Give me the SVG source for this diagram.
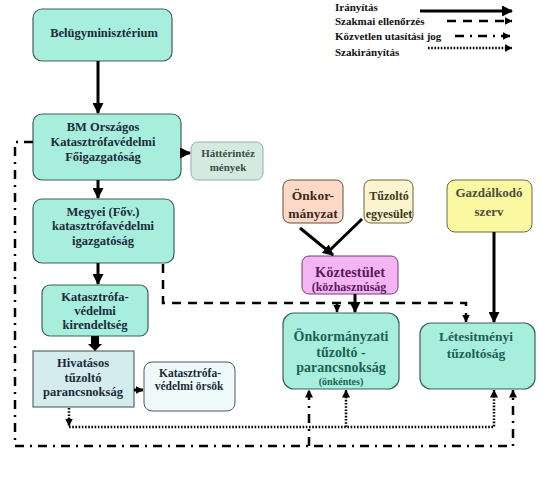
<svg xmlns="http://www.w3.org/2000/svg" width="543" height="477" viewBox="0 0 543 477" font-family="'Liberation Serif', 'DejaVu Serif', serif">
<style>
text{font-family:'Liberation Serif','DejaVu Serif',serif;font-weight:bold;text-anchor:middle}
.teal{fill:#a8eedc;stroke:#3f5f58;stroke-width:1.2}
.dk{fill:#1b2b3b;font-size:12.5px}
.tl{fill:#1e5f55}
.leg{text-anchor:start;font-size:11px;fill:#111}
.solid{fill:none;stroke:#000;stroke-width:3}
.dash{fill:none;stroke:#000;stroke-width:2.5;stroke-dasharray:9 7}
.dd{fill:none;stroke:#000;stroke-width:2.5;stroke-dasharray:9 6 2 6}
.dot{fill:none;stroke:#000;stroke-width:2.5;stroke-dasharray:1.6 1.6}
</style>
<defs>
<marker id="big" markerUnits="userSpaceOnUse" markerWidth="11" markerHeight="11" refX="10" refY="5.5" orient="auto"><path d="M0,0 L11,5.5 L0,11 z" fill="#000"/></marker>
<marker id="sm" markerUnits="userSpaceOnUse" markerWidth="8" markerHeight="8" refX="7.5" refY="4" orient="auto"><path d="M0,0 L8,4 L0,8 z" fill="#000"/></marker>
</defs>
<rect width="543" height="477" fill="#fff"/>

<g id="legend">
<text class="leg" x="335" y="11">Irányítás</text>
<text class="leg" x="335" y="25">Szakmai ellenőrzés</text>
<text class="leg" x="335" y="40">Közvetlen utasítási jog</text>
<text class="leg" x="335" y="56">Szakirányítás</text>
<line class="solid" x1="420" y1="11" x2="512" y2="11" marker-end="url(#big)"/>
<line class="dash" x1="447" y1="21" x2="512" y2="21" marker-end="url(#sm)"/>
<line class="dd" x1="455" y1="36" x2="510" y2="36" marker-end="url(#sm)"/>
<line class="dot" x1="428" y1="48" x2="512" y2="48" marker-end="url(#sm)"/>
</g>

<g id="belugy">
<rect class="teal" x="33" y="9" width="139" height="52" rx="9"/>
<text class="dk" x="104" y="37">Belügyminisztérium</text>
</g>
<g id="bm">
<rect class="teal" x="33" y="114" width="148" height="66" rx="9"/>
<text class="dk" x="103" y="131">BM Országos</text>
<text class="dk" x="103" y="146">Katasztrófavédelmi</text>
<text class="dk" x="103" y="161">Főigazgatóság</text>
</g>
<g id="hatter">
<rect x="191" y="142" width="72" height="38" rx="7" fill="#d3eadf" stroke="#9ab" stroke-width="1"/>
<text x="228" y="157" font-size="11" fill="#3d4d45">Háttérintéz</text>
<text x="228" y="171" font-size="11" fill="#3d4d45">mények</text>
</g>
<g id="megyei">
<rect class="teal" x="33" y="199" width="141" height="64" rx="9"/>
<text class="dk" x="103" y="216">Megyei (Főv.)</text>
<text class="dk" x="103" y="230">katasztrófavédelmi</text>
<text class="dk" x="103" y="245">igazgatóság</text>
</g>
<g id="kirendeltseg">
<rect class="teal" x="42" y="285" width="106" height="51" rx="8"/>
<text class="dk" x="95" y="301">Katasztrófa-</text>
<text class="dk" x="95" y="315">védelmi</text>
<text class="dk" x="95" y="329">kirendeltség</text>
</g>
<g id="hivatasos">
<rect x="33" y="351" width="101" height="56" fill="#d4eced" stroke="#5a6a70" stroke-width="1.2"/>
<text class="dk" x="83" y="367" font-size="12">Hivatásos</text>
<text class="dk" x="83" y="382" font-size="12">tűzoltó</text>
<text class="dk" x="83" y="396" font-size="12">parancsnokság</text>
</g>
<g id="orsok">
<rect x="144" y="362" width="91" height="49" rx="8" fill="#eefafa" stroke="#556" stroke-width="1"/>
<text x="190" y="377" font-size="11.5" fill="#1b2b3b">Katasztrófa-</text>
<text x="189" y="390" font-size="11.5" fill="#1b2b3b">védelmi örsök</text>
</g>
<g id="onkor">
<rect x="283" y="180" width="60" height="43" rx="7" fill="#fcd8c6" stroke="#6a4a40" stroke-width="1"/>
<text x="313" y="200" font-size="13.5" fill="#3b2b22">Önkor-</text>
<text x="313" y="218" font-size="13.5" fill="#3b2b22">mányzat</text>
</g>
<g id="tuzoltoegy">
<rect x="364" y="180" width="49" height="43" rx="7" fill="#fcf3cf" stroke="#6a6040" stroke-width="1"/>
<text x="389" y="200" font-size="12" fill="#3b3b22">Tűzoltó</text>
<text x="389" y="218" font-size="12" fill="#3b3b22">egyesület</text>
</g>
<g id="gazdalkodo">
<rect x="447" y="180" width="85" height="52" rx="8" fill="#fbf8a2" stroke="#6a6a40" stroke-width="1"/>
<text x="489" y="197" font-size="13" fill="#4d4d3d">Gazdálkodó</text>
<text x="489" y="216" font-size="13" fill="#4d4d3d">szerv</text>
</g>
<g id="koztestulet">
<rect x="302" y="256" width="96" height="38" rx="7" fill="#f5b5f5" stroke="#7a3a7a" stroke-width="1"/>
<text x="350" y="277" font-size="14.5" fill="#5b1b5b">Köztestület</text>
<text x="349" y="291" font-size="12" fill="#5b1b5b">(közhasznúság</text>
</g>
<g id="onkormanyzati">
<rect class="teal" x="283" y="313" width="116" height="76" rx="11"/>
<text class="tl" x="341" y="341" font-size="14" font-weight="normal">Önkormányzati</text>
<text class="tl" x="341" y="356.5" font-size="14" font-weight="normal">tűzoltó -</text>
<text class="tl" x="341" y="372" font-size="14" font-weight="normal">parancsnokság</text>
<text class="tl" x="341" y="385" font-size="10">(önkéntes)</text>
</g>
<g id="letesitmenyi">
<rect class="teal" x="420" y="323" width="115" height="66" rx="11"/>
<text class="tl" x="476" y="341" font-size="13.5">Létesitményi</text>
<text class="tl" x="476" y="358" font-size="13.5">tűzoltóság</text>
</g>

<g id="connectors">
<path class="solid" d="M98,61 V113" marker-end="url(#big)"/>
<path class="solid" d="M98,180 V198" marker-end="url(#big)"/>
<path class="solid" d="M181,153 H190" marker-end="url(#big)"/>
<path class="solid" d="M98,263 V284" marker-end="url(#big)"/>
<path d="M91,336 H99 V344 H102 L95,351 L88,344 H91 Z" fill="#000"/>
<path class="solid" d="M134,390 H143" marker-end="url(#sm)"/>
<path class="solid" d="M300,228 L333,255" marker-end="url(#big)"/>
<path class="solid" d="M362,219 L330,250"/>
<path class="solid" d="M355,294 V312" marker-end="url(#big)"/>
<path class="solid" d="M494,232 V322" marker-end="url(#big)"/>
<path class="dash" d="M163,264 V303 H466 V322" marker-end="url(#sm)"/>
<path class="dash" d="M337,303 V312" marker-end="url(#sm)"/>
<path class="dot" d="M69,408 V426" marker-end="url(#sm)"/>
<path class="dot" d="M69,427 H494 V390" marker-end="url(#sm)"/>
<path class="dot" d="M346,427 V390" marker-end="url(#sm)"/>
<path class="dd" d="M33,142 H15 V446 H513 V390" marker-end="url(#sm)"/>
<path class="dd" d="M309,446 V390" marker-end="url(#sm)"/>
</g>
</svg>
